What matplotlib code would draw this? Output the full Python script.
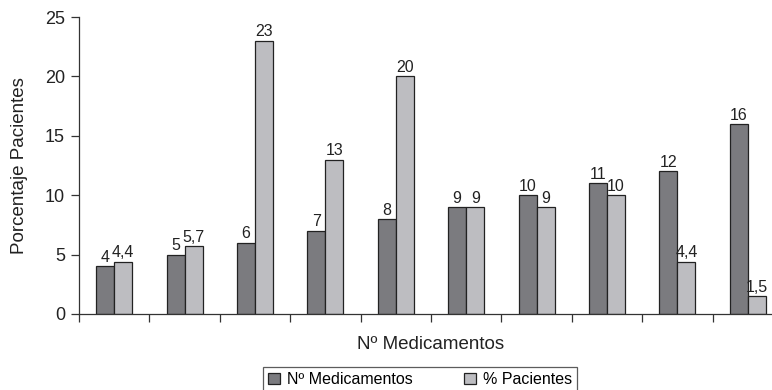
import numpy as np
import matplotlib
matplotlib.use("Agg")
import matplotlib.pyplot as plt

plt.rcParams["font.family"] = ["Liberation Sans", "DejaVu Sans"]

# ── data ──────────────────────────────────────────────────────────────────────
n_medicamentos = [4, 5, 6, 7, 8, 9, 10, 11, 12, 16]
pct_pacientes  = [4.4, 5.7, 23, 13, 20, 9, 9, 10, 4.4, 1.5]
series_names   = ["Nº Medicamentos", "% Pacientes"]

DARK  = "#7b7b7f"
LIGHT = "#bdbdc1"
EDGE  = "#222222"
TEXT  = "#222222"


def fmt(v):
    # Spanish decimal comma, integers without decimals
    return f"{v:g}".replace(".", ",")


fig = plt.figure(figsize=(7.72, 3.90), dpi=100)
ax = fig.add_axes([79 / 772, 76 / 390, 704 / 772, 297 / 390])

x = np.arange(len(n_medicamentos))
w = 0.257
b1 = ax.bar(x - w / 2, n_medicamentos, w, color=DARK, edgecolor=EDGE, linewidth=0.9,
            label=series_names[0])
b2 = ax.bar(x + w / 2, pct_pacientes, w, color=LIGHT, edgecolor=EDGE, linewidth=0.9,
            label=series_names[1])

for bars, vals in ((b1, n_medicamentos), (b2, pct_pacientes)):
    ax.bar_label(bars, labels=[fmt(v) for v in vals], padding=1, fontsize=11.5, color=TEXT)

ax.set_xlim(-0.5, len(x) - 0.5)
ax.set_ylim(0, 25)
ax.set_yticks([0, 5, 10, 15, 20, 25])
ax.set_xticks(np.arange(len(x)) - 0.5)
ax.set_xticklabels([])
ax.tick_params(axis="both", direction="out", length=6, width=0.9, colors="#333333",
               labelsize=13, pad=4)
ax.tick_params(axis="y", labelcolor=TEXT)

for s in ("top", "right"):
    ax.spines[s].set_visible(False)
for s in ("left", "bottom"):
    ax.spines[s].set_color("#333333")
    ax.spines[s].set_linewidth(0.9)

ax.set_ylabel("Porcentaje Pacientes", fontsize=13.5, color=TEXT, labelpad=12)
ax.set_xlabel("Nº Medicamentos", fontsize=13.5, color=TEXT, labelpad=6)

leg = fig.legend(handles=[b1, b2], loc="upper center", bbox_to_anchor=(0.544, 0.058),
                 ncol=2, frameon=True, fancybox=False, fontsize=11.5,
                 handlelength=0.75, handleheight=0.75, handletextpad=0.45,
                 columnspacing=3.2, borderpad=0.3, borderaxespad=0)
leg.get_frame().set_edgecolor("#333333")
leg.get_frame().set_linewidth(0.9)

fig.savefig("out.png", dpi=100)
